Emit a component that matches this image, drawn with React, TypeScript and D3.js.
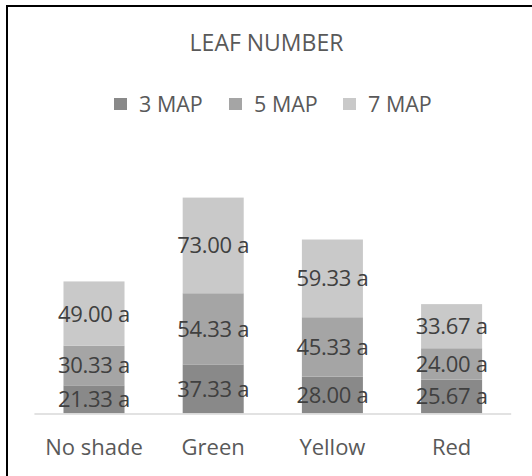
import React from "react";
import * as d3 from "d3";

const categories = ["No shade", "Green", "Yellow", "Red"];
const seriesNames = ["3 MAP", "5 MAP", "7 MAP"];
const map3 = [21.33, 37.33, 28.0, 25.67];
const map5 = [30.33, 54.33, 45.33, 24.0];
const map7 = [49.0, 73.0, 59.33, 33.67];
const letters3 = ["a", "a", "a", "a"];
const letters5 = ["a", "a", "a", "a"];
const letters7 = ["a", "a", "a", "a"];
const colors = ["#898989", "#a5a5a5", "#c9c9c9"];

const W = 532;
const H = 476;
const FONT = "'Open Sans', sans-serif";

export default function App() {
  const rows = categories.map((c, i) => ({
    cat: c,
    "3 MAP": map3[i],
    "5 MAP": map5[i],
    "7 MAP": map7[i],
  }));
  const letters = [letters3, letters5, letters7];
  const stack = d3.stack<any>().keys(seriesNames)(rows);

  const x = d3
    .scaleBand<string>()
    .domain(categories)
    .range([34.4, 511.2])
    .paddingInner(0.488)
    .paddingOuter(0.244);
  const y = d3.scaleLinear().domain([0, 180]).range([413.3, 177.5]);

  const legendX = [114, 229, 343];

  return (
    <svg
      width={W}
      height={H}
      style={{ position: "absolute", left: 0, top: 0, background: "#fff" }}
      fontFamily={FONT}
    >
      <rect x={0} y={0} width={W} height={H} fill="#fff" />
      <path d={`M7,${H} V6 H${W}`} fill="none" stroke="#000" strokeWidth={2} />
      <text x={266.5} y={50.5} textAnchor="middle" fontSize={23} fill="#595959">
        LEAF NUMBER
      </text>
      {seriesNames.map((s, i) => (
        <g key={s}>
          <rect x={legendX[i]} y={98} width={13} height={12} fill={colors[i]} />
          <text x={legendX[i] + 25} y={111.5} fontSize={21.5} fill="#595959">
            {s}
          </text>
        </g>
      ))}
      {stack.map((layer, si) => (
        <g key={layer.key}>
          {layer.map((d, ci) => (
            <rect
              key={ci}
              x={x(categories[ci])}
              y={y(d[1])}
              width={x.bandwidth()}
              height={y(d[0]) - y(d[1])}
              fill={colors[si]}
            />
          ))}
        </g>
      ))}
      <line x1={34.4} x2={511.2} y1={414} y2={414} stroke="#d9d9d9" strokeWidth={1.5} />
      {stack.map((layer, si) => (
        <g key={"l" + layer.key}>
          {layer.map((d, ci) => (
            <text
              key={ci}
              x={(x(categories[ci]) as number) + x.bandwidth() / 2}
              y={(y(d[0]) + y(d[1])) / 2 + 8}
              textAnchor="middle"
              fontSize={22}
              fill="#404040"
              letterSpacing={-0.3}
            >
              {(d[1] - d[0]).toFixed(2) + " " + letters[si][ci]}
            </text>
          ))}
        </g>
      ))}
      {categories.map((c) => (
        <text
          key={c}
          x={(x(c) as number) + x.bandwidth() / 2}
          y={455}
          textAnchor="middle"
          fontSize={22}
          fill="#595959"
        >
          {c}
        </text>
      ))}
    </svg>
  );
}
